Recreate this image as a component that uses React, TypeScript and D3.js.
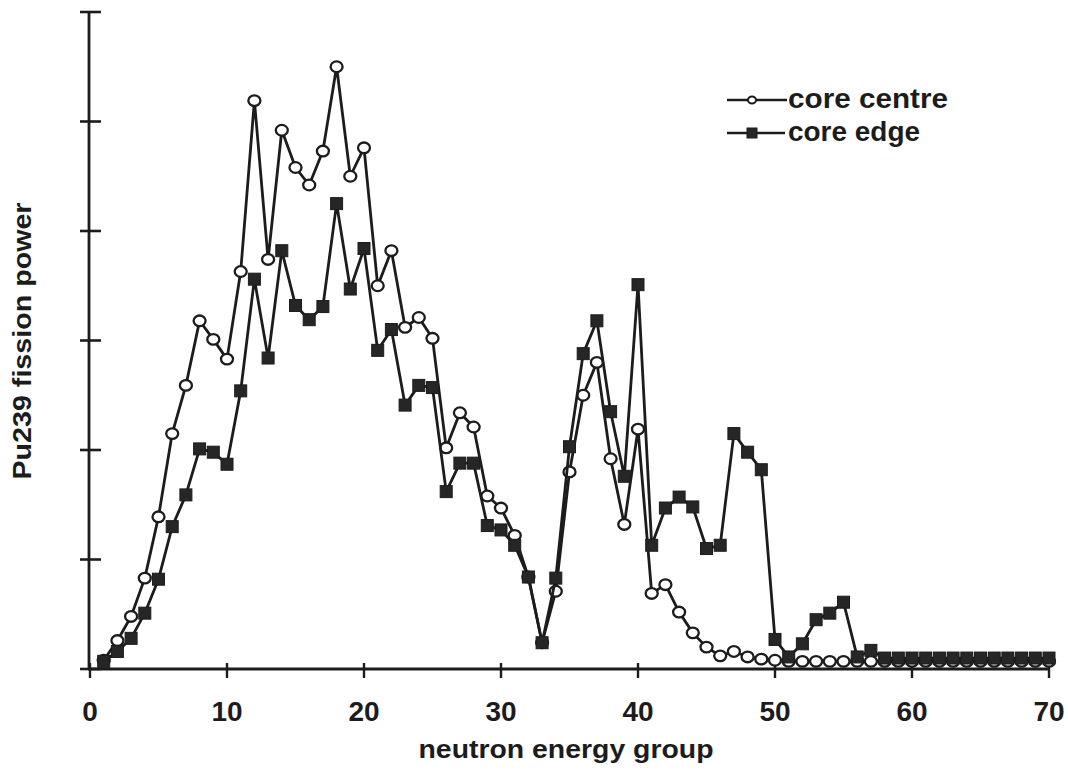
import React from "react";
import * as d3 from "d3";

const groups: number[] = d3.range(1, 71);

const coreCentre: number[] = [
  0.08, 0.26, 0.48, 0.83, 1.39, 2.15, 2.59, 3.18, 3.01, 2.83,
  3.63, 5.19, 3.74, 4.92, 4.58, 4.42, 4.73, 5.50, 4.50, 4.76,
  3.50, 3.82, 3.12, 3.21, 3.02, 2.02, 2.34, 2.21, 1.58, 1.47,
  1.22, 0.84, 0.24, 0.71, 1.80, 2.50, 2.80, 1.92, 1.32, 2.19,
  0.69, 0.77, 0.52, 0.33, 0.20, 0.12, 0.16, 0.11, 0.09, 0.08,
  0.07, 0.07, 0.07, 0.07, 0.07, 0.07, 0.07, 0.07, 0.07, 0.07,
  0.07, 0.07, 0.07, 0.07, 0.07, 0.07, 0.07, 0.07, 0.07, 0.07,
];

const coreEdge: number[] = [
  0.07, 0.16, 0.28, 0.51, 0.82, 1.30, 1.59, 2.01, 1.98, 1.87,
  2.54, 3.56, 2.84, 3.82, 3.32, 3.19, 3.31, 4.25, 3.47, 3.84,
  2.91, 3.10, 2.41, 2.59, 2.57, 1.62, 1.88, 1.88, 1.31, 1.27,
  1.13, 0.84, 0.24, 0.83, 2.03, 2.88, 3.18, 2.35, 1.76, 3.51,
  1.13, 1.47, 1.57, 1.48, 1.10, 1.13, 2.15, 1.98, 1.82, 0.27,
  0.11, 0.23, 0.45, 0.51, 0.61, 0.11, 0.17, 0.10, 0.10, 0.10,
  0.10, 0.10, 0.10, 0.10, 0.10, 0.10, 0.10, 0.10, 0.10, 0.10,
];

const xTicks: number[] = [0, 10, 20, 30, 40, 50, 60, 70];
const yTicks: number[] = [0, 1, 2, 3, 4, 5, 6];

const seriesNames: string[] = ["core centre", "core edge"];
const xTitle = "neutron energy group";
const yTitle = "Pu239 fission power";

const W = 1068;
const H = 771;
const INK = "#1c1c1c";
const FONT = "'Liberation Sans', Arial, Helvetica, sans-serif";

export default function App() {
  const x = d3.scaleLinear().domain([0, 70]).range([90, 1049]);
  const y = d3.scaleLinear().domain([0, 6]).range([669, 12]);

  const line = d3
    .line<number>()
    .x((_, i) => x(groups[i]))
    .y((d) => y(d));

  const axisY0 = y(0);
  const axisX0 = x(0) - 1;

  return (
    <svg
      width={W}
      height={H}
      viewBox={`0 0 ${W} ${H}`}
      style={{ position: "absolute", left: 0, top: 0, background: "#fff" }}
    >
      <rect x={0} y={0} width={W} height={H} fill="#fff" />

      {/* Y axis */}
      <line x1={axisX0} x2={axisX0} y1={y(6)} y2={axisY0 + 1} stroke={INK} strokeWidth={2.8} />
      {yTicks.map((t) => (
        <line key={"yt" + t} x1={axisX0 - 9} x2={axisX0 + 12} y1={y(t)} y2={y(t)} stroke={INK} strokeWidth={2.6} />
      ))}

      {/* X axis */}
      <line x1={axisX0 - 1} x2={x(70) + 1} y1={axisY0} y2={axisY0} stroke={INK} strokeWidth={2.8} />
      {xTicks.map((t) => (
        <line key={"xt" + t} x1={x(t)} x2={x(t)} y1={axisY0 - 6} y2={axisY0 + 9} stroke={INK} strokeWidth={2.4} />
      ))}
      {xTicks.map((t) => (
        <text
          key={"xl" + t}
          x={x(t)}
          y={721}
          textAnchor="middle"
          fontFamily={FONT}
          fontWeight="bold"
          fontSize={28}
          fill={INK}
        >
          {t}
        </text>
      ))}

      {/* Axis titles */}
      <text
        x={566}
        y={758}
        textAnchor="middle"
        fontFamily={FONT}
        fontWeight="bold"
        fontSize={26}
        fill={INK}
        textLength={295}
        lengthAdjust="spacingAndGlyphs"
      >
        {xTitle}
      </text>
      <text
        transform={`translate(31, 341) rotate(-90)`}
        textAnchor="middle"
        fontFamily={FONT}
        fontWeight="bold"
        fontSize={26}
        fill={INK}
        textLength={277}
        lengthAdjust="spacingAndGlyphs"
      >
        {yTitle}
      </text>

      {/* core centre series */}
      <path d={line(coreCentre) || ""} fill="none" stroke={INK} strokeWidth={2.8} strokeLinejoin="round" />
      {coreCentre.map((v, i) => (
        <ellipse
          key={"c" + i}
          cx={x(groups[i])}
          cy={y(v)}
          rx={6}
          ry={5.3}
          fill="#fff"
          stroke={INK}
          strokeWidth={2.3}
        />
      ))}

      {/* core edge series */}
      <path d={line(coreEdge) || ""} fill="none" stroke={INK} strokeWidth={2.8} strokeLinejoin="round" />
      {coreEdge.map((v, i) => (
        <rect
          key={"e" + i}
          x={x(groups[i]) - 6}
          y={y(v) - 6}
          width={12}
          height={12}
          fill="#262626"
          stroke={INK}
          strokeWidth={1}
        />
      ))}

      {/* Legend */}
      <line x1={727} x2={787} y1={100} y2={100} stroke={INK} strokeWidth={2.4} />
      <ellipse cx={752} cy={100} rx={4} ry={3.5} fill="#fff" stroke={INK} strokeWidth={2} />
      <text
        x={788}
        y={108}
        fontFamily={FONT}
        fontWeight="bold"
        fontSize={27}
        fill={INK}
        textLength={160}
        lengthAdjust="spacingAndGlyphs"
      >
        {seriesNames[0]}
      </text>
      <line x1={727} x2={785} y1={133} y2={133} stroke={INK} strokeWidth={2.4} />
      <rect x={747} y={128} width={10} height={10} fill="#262626" stroke={INK} strokeWidth={1} />
      <text
        x={788}
        y={141}
        fontFamily={FONT}
        fontWeight="bold"
        fontSize={27}
        fill={INK}
        textLength={132}
        lengthAdjust="spacingAndGlyphs"
      >
        {seriesNames[1]}
      </text>
    </svg>
  );
}
